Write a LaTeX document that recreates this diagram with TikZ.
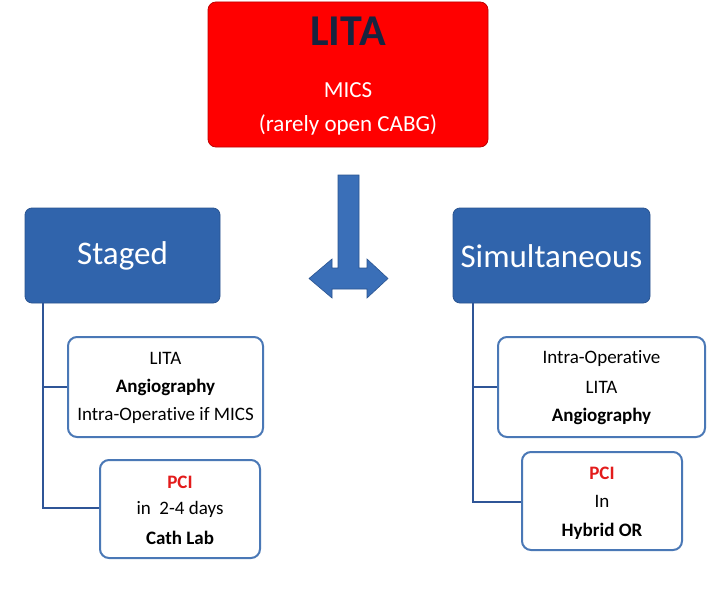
\documentclass[tikz,border=0pt]{standalone}
\usepackage{fontspec}
\setmainfont[Ligatures=NoCommon]{Carlito}
\definecolor{topred}{HTML}{FF0000}
\definecolor{topredborder}{HTML}{C00000}
\definecolor{navytext}{HTML}{17243F}
\definecolor{headblue}{HTML}{3064AC}
\definecolor{headborder}{HTML}{2A5490}
\definecolor{linkblue}{HTML}{2F5597}
\definecolor{boxborder}{HTML}{4A78B6}
\definecolor{arrowfill}{HTML}{3A6FB8}
\definecolor{arrowborder}{HTML}{2A5490}
\definecolor{pcired}{HTML}{E31B1B}
\tikzset{
  topbox/.style={draw=topredborder, fill=topred, rounded corners=8pt, line width=0.8pt, minimum width=280pt, minimum height=145pt, inner sep=0pt},
  headbox/.style={draw=headborder, fill=headblue, rounded corners=7pt, line width=0.8pt, minimum height=95pt, inner sep=0pt},
  infobox/.style={draw=boxborder, fill=white, rounded corners=9pt, line width=2pt, inner sep=0pt},
  headtext/.style={text=white, font=\fontsize{33}{38}\selectfont},
  smalltext/.style={text=black, font=\fontsize{19}{22}\selectfont},
  boldtext/.style={text=black, font=\fontsize{19}{22}\selectfont\bfseries},
  link/.style={draw=linkblue, line width=2.8pt}
}
\begin{document}
\begin{tikzpicture}[x=1pt,y=-1pt]
\useasboundingbox (0,0) rectangle (720,594);
\fill[white] (0,0) rectangle (720,594);
% top box
\node[topbox] (top) at (348,74.5) {};
\node[text=navytext, font=\fontsize{44}{50}\selectfont\bfseries] (lita) at (348,31.5) {LITA};
\node[text=white, font=\fontsize{23}{27}\selectfont] (mics) at (348,90) {MICS};
\node[text=white, font=\fontsize{23}{27}\selectfont] (rare) at (348,125) {(rarely open CABG)};
% arrow
\filldraw[fill=arrowfill, draw=arrowborder, line width=0.6pt, line join=miter]
  (338,175) -- (359,175) -- (359,268) -- (367,268) -- (367,259) -- (388,278.5)
  -- (367,298) -- (367,289) -- (332,289) -- (332,298) -- (309,278.5)
  -- (332,259) -- (332,268) -- (338,268) -- cycle;
% left column
\node[headbox, minimum width=195pt] (staged) at (122.5,255.5) {};
\node[headtext] (stagedt) at (122.5,256) {Staged};
\node[infobox, minimum width=195pt, minimum height=100pt] (lb1) at (165.5,387) {};
\node[smalltext] (lb1a) at (165.5,358) {LITA};
\node[boldtext] (lb1b) at (165.5,387) {Angiography};
\node[smalltext] (lb1c) at (165.5,415) {Intra-Operative if MICS};
\node[infobox, minimum width=160pt, minimum height=98pt] (lb2) at (180,509) {};
\node[boldtext, text=pcired] (lb2a) at (180,482) {PCI};
\node[smalltext] (lb2b) at (180,509) {in\ \ 2-4 days};
\node[boldtext] (lb2c) at (180,538) {Cath Lab};
\coordinate (lj1) at (43,387);
\coordinate (lj2) at (43,508);
\draw[link] (staged.south -| lj1) -- (lj2) -- (lb2.west |- lj2);
\draw[link] (lj1) -- (lb1.west |- lj1);
% right column
\node[headbox, minimum width=197pt] (simul) at (551.5,255.5) {};
\node[headtext] (simult) at (551.5,256) {Simultaneous};
\node[infobox, minimum width=207pt, minimum height=100pt] (rb1) at (601.5,387) {};
\node[smalltext] (rb1a) at (601.5,358) {Intra-Operative};
\node[smalltext] (rb1b) at (601.5,387) {LITA};
\node[boldtext] (rb1c) at (601.5,416) {Angiography};
\node[infobox, minimum width=160pt, minimum height=98pt] (rb2) at (602,501) {};
\node[boldtext, text=pcired] (rb2a) at (602,473) {PCI};
\node[smalltext] (rb2b) at (602,501) {In};
\node[boldtext] (rb2c) at (602,531) {Hybrid OR};
\coordinate (rj1) at (473,387);
\coordinate (rj2) at (473,502);
\draw[link] (simul.south -| rj1) -- (rj2) -- (rb2.west |- rj2);
\draw[link] (rj1) -- (rb1.west |- rj1);
\end{tikzpicture}
\end{document}
